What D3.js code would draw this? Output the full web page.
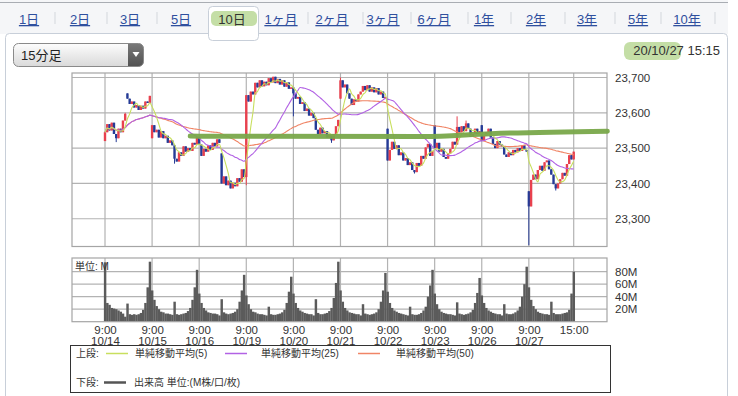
<!DOCTYPE html>
<html>
<head>
<meta charset="utf-8">
<script src="https://d3js.org/d3.v7.min.js"></script>
<style>
  body { margin: 0; background: #fff; }
  svg { display: block; font-family: "Liberation Sans", "Noto Sans CJK JP", sans-serif; }
</style>
</head>
<body>
<svg id="chart" width="738" height="396"></svg>
<script>
// ----- data -----
const tabLabels = ["1日", "2日", "3日", "5日", "10日", "1ヶ月", "2ヶ月", "3ヶ月", "6ヶ月", "1年", "2年", "3年", "5年", "10年"];
const selectedTab = "10日";
const dayLabels = ["10/14", "10/15", "10/16", "10/19", "10/20", "10/21", "10/22", "10/23", "10/26", "10/27"];
const stampText = "20/10/27 15:15";
const barText = "15分足";

// 15-minute closes, 21 bars per session (9:00 ... 15:00)
const c1014 = [23545, 23568, 23550, 23572, 23540, 23528, 23555, 23545, 23578, 23597, 23640, 23625, 23632, 23615, 23622, 23608, 23620, 23612, 23632, 23628, 23648];
const c1015 = [23565, 23545, 23552, 23530, 23548, 23528, 23535, 23515, 23522, 23508, 23470, 23462, 23488, 23478, 23505, 23490, 23500, 23492, 23515, 23510, 23530];
const c1016 = [23510, 23478, 23498, 23490, 23508, 23495, 23515, 23505, 23525, 23515, 23400, 23420, 23395, 23408, 23386, 23402, 23392, 23415, 23405, 23440, 23418];
const c1019 = [23650, 23632, 23660, 23652, 23685, 23672, 23692, 23675, 23688, 23678, 23698, 23686, 23702, 23684, 23696, 23680, 23692, 23674, 23686, 23668, 23672];
const c1020 = [23655, 23640, 23645, 23625, 23630, 23605, 23612, 23592, 23600, 23585, 23552, 23540, 23558, 23542, 23548, 23530, 23538, 23522, 23540, 23562, 23580];
const c1021 = [23692, 23672, 23680, 23655, 23640, 23622, 23638, 23632, 23652, 23660, 23676, 23664, 23678, 23660, 23672, 23658, 23670, 23652, 23660, 23642, 23645];
const c1022 = [23465, 23495, 23518, 23498, 23508, 23480, 23488, 23465, 23472, 23452, 23460, 23438, 23432, 23458, 23450, 23478, 23470, 23502, 23512, 23478, 23492];
const c1023 = [23500, 23515, 23490, 23498, 23475, 23470, 23485, 23498, 23518, 23510, 23560, 23545, 23562, 23548, 23570, 23555, 23532, 23540, 23555, 23540, 23548];
const c1026 = [23520, 23535, 23545, 23555, 23530, 23512, 23500, 23520, 23510, 23505, 23482, 23475, 23488, 23480, 23495, 23488, 23500, 23492, 23508, 23495, 23490];
const c1027 = [23335, 23410, 23425, 23412, 23438, 23450, 23436, 23460, 23465, 23440, 23425, 23398, 23386, 23400, 23412, 23430, 23422, 23455, 23480, 23468, 23490];

// opens that differ from the previous close: [day, bar, price]
const gapOpens = [[0, 0, 23520], [0, 10, 23655], [1, 0, 23528], [2, 10, 23485], [5, 0, 23640], [6, 0, 23555], [7, 0, 23565], [8, 0, 23565], [9, 0, 23378]];
const wickLows = [[0, 5, 23517], [1, 10, 23456], [3, 0, 23395], [4, 0, 23590], [4, 17, 23515], [6, 12, 23428], [9, 0, 23225], [9, 12, 23380]];
const wickHighs = [[0, 9, 23600], [5, 0, 23700], [7, 10, 23590], [7, 14, 23578]];

// volume, M shares per 15 minutes
const v1014 = [95, 30, 27, 22, 21, 20, 18, 16, 13, 8, 29, 12, 11, 12, 11, 12, 14, 19, 30, 55, 96];
const v1015 = [50, 35, 25, 20, 16, 15, 13, 13, 12, 11, 32, 12, 11, 12, 13, 14, 17, 22, 35, 55, 83];
const v1016 = [45, 30, 22, 18, 15, 14, 13, 13, 12, 10, 36, 15, 13, 12, 13, 14, 16, 20, 32, 50, 75];
const v1019 = [42, 28, 20, 16, 15, 13, 12, 12, 11, 10, 24, 12, 11, 11, 12, 13, 15, 19, 30, 48, 72];
const v1020 = [45, 30, 22, 18, 16, 14, 13, 12, 12, 10, 36, 14, 12, 12, 13, 14, 17, 22, 38, 62, 96];
const v1021 = [50, 32, 22, 18, 15, 14, 13, 12, 12, 10, 28, 13, 12, 11, 12, 13, 15, 20, 32, 50, 78];
const v1022 = [48, 30, 22, 18, 16, 14, 13, 12, 11, 10, 24, 12, 11, 11, 12, 14, 18, 24, 40, 58, 83];
const v1023 = [45, 28, 20, 16, 14, 13, 12, 12, 11, 10, 31, 13, 12, 11, 12, 13, 15, 19, 30, 46, 70];
const v1026 = [42, 30, 22, 18, 16, 14, 13, 12, 12, 10, 28, 13, 12, 12, 13, 15, 18, 24, 40, 60, 88];
const v1027 = [55, 35, 25, 20, 16, 14, 13, 12, 12, 11, 32, 14, 12, 12, 12, 13, 14, 15, 19, 45, 80];

// hand-drawn marker line over the price chart: [bar index, price]
const markLine = [[38, 23534], [142, 23533], [172, 23541], [224, 23548]];

const priceTicks = [23300, 23400, 23500, 23600, 23700];
const volTicks = [20, 40, 60, 80];
const maSpecs = [
  { n: 5, label: "単純移動平均(5)", color: "#c8df5e" },
  { n: 25, label: "単純移動平均(25)", color: "#b262e4" },
  { n: 50, label: "単純移動平均(50)", color: "#f08566" }
];

// ----- build bars -----
const perDay = 21;
const closes = [].concat(c1014, c1015, c1016, c1019, c1020, c1021, c1022, c1023, c1026, c1027);
const volumes = [].concat(v1014, v1015, v1016, v1019, v1020, v1021, v1022, v1023, v1026, v1027);
const lookup = arr => new Map(arr.map(d => [d[0] * perDay + d[1], d[2]]));
const openMap = lookup(gapOpens), lowMap = lookup(wickLows), highMap = lookup(wickHighs);

const bars = closes.map((c, i) => {
  const o = openMap.has(i) ? openMap.get(i) : closes[i - 1];
  let h = Math.max(o, c), l = Math.min(o, c);
  if (highMap.has(i)) h = Math.max(h, highMap.get(i));
  if (lowMap.has(i)) l = Math.min(l, lowMap.get(i));
  return { i, o, c, h, l, v: volumes[i] };
});

function sma(n) {
  return closes.map((c, i) => d3.mean(closes.slice(Math.max(0, i - n + 1), i + 1)));
}

// ----- scales -----
const left = 72, right = 607;
const x = d3.scaleLinear().domain([0, closes.length - 1]).range([105, 573.7]);
const y = d3.scaleLinear().domain([23221.5, 23712.7]).range([246.5, 73]);
const yv = d3.scaleLinear().domain([0, 80]).range([321.7, 271.7]);
const dayStarts = dayLabels.map((d, k) => k * perDay);
const xTicks = dayStarts.concat([closes.length - 1]);

const svg = d3.select("#chart");
const gridColor = "#b3b3b3";
const red = "#e8414e", blue = "#253b96";

// ----- tab strip and panel -----
svg.append("rect").attr("x", 0).attr("y", 0).attr("width", 728).attr("height", 34).attr("fill", "#f5f6f8");
svg.append("line").attr("x1", 0).attr("x2", 728).attr("y1", 2.5).attr("y2", 2.5).attr("stroke", "#a9adb3");
svg.append("rect").attr("x", 5.5).attr("y", 33.5).attr("width", 722).attr("height", 400).attr("rx", 4)
  .attr("fill", "#fff").attr("stroke", "#c8cfd9");
svg.append("rect").attr("x", 208.5).attr("y", 6.5).attr("width", 50).attr("height", 34).attr("rx", 4)
  .attr("fill", "#fff").attr("stroke", "#c8cfd9");
svg.append("rect").attr("x", 209).attr("y", 32).attr("width", 49).attr("height", 4).attr("fill", "#fff");

// marker highlights
svg.append("rect").attr("x", 211).attr("y", 11).attr("width", 46).attr("height", 15).attr("rx", 5)
  .attr("fill", "#9cc86a").attr("opacity", 0.6);
svg.append("rect").attr("x", 624).attr("y", 42).attr("width", 57).attr("height", 18).attr("rx", 6)
  .attr("fill", "#9cc86a").attr("opacity", 0.6);

const tabX = [29, 80, 130, 181, 232, 281, 332, 383, 434, 484, 536, 587, 638, 687];
const sepX = [55, 107, 157, 308, 363, 411, 468, 511, 565, 615, 661, 715];
svg.append("g").selectAll("line").data(sepX).join("line")
  .attr("x1", d => d).attr("x2", d => d).attr("y1", 12).attr("y2", 24)
  .attr("stroke", "#d3d7dc");
svg.append("g").selectAll("text").data(tabLabels).join("text")
  .attr("x", (d, i) => tabX[i]).attr("y", 24)
  .attr("text-anchor", "middle").style("font-size", "13px")
  .attr("fill", d => d === selectedTab ? "#333" : "#2f4f9e")
  .attr("text-decoration", d => d === selectedTab ? "none" : "underline")
  .text(d => d);

// dropdown
const defs = svg.append("defs");
const g1 = defs.append("linearGradient").attr("id", "ddg").attr("x1", 0).attr("y1", 0).attr("x2", 0).attr("y2", 1);
g1.append("stop").attr("offset", "0%").attr("stop-color", "#fdfdfd");
g1.append("stop").attr("offset", "100%").attr("stop-color", "#d9d9d9");
const g2 = defs.append("linearGradient").attr("id", "ddb").attr("x1", 0).attr("y1", 0).attr("x2", 0).attr("y2", 1);
g2.append("stop").attr("offset", "0%").attr("stop-color", "#7a7a7a");
g2.append("stop").attr("offset", "100%").attr("stop-color", "#4f4f4f");
defs.append("clipPath").attr("id", "ddclip").append("rect")
  .attr("x", 13.5).attr("y", 43.5).attr("width", 130).attr("height", 23).attr("rx", 5);
defs.append("clipPath").attr("id", "plotclip").append("rect")
  .attr("x", left).attr("y", 73).attr("width", right - left).attr("height", 173.5);

svg.append("rect").attr("x", 13.5).attr("y", 43.5).attr("width", 130).attr("height", 23).attr("rx", 5)
  .attr("fill", "url(#ddg)");
svg.append("rect").attr("x", 128).attr("y", 43).attr("width", 17).attr("height", 25)
  .attr("fill", "url(#ddb)").attr("clip-path", "url(#ddclip)");
svg.append("rect").attr("x", 13.5).attr("y", 43.5).attr("width", 130).attr("height", 23).attr("rx", 5)
  .attr("fill", "none").attr("stroke", "#8a8a8a");
svg.append("path").attr("d", "M132.5,52 L139.5,52 L136,57 Z").attr("fill", "#fff");
svg.append("text").attr("x", 21).attr("y", 59.5).style("font-size", "13px").attr("fill", "#222").text(barText);

svg.append("text").attr("x", 720).attr("y", 54.5).attr("text-anchor", "end")
  .style("font-size", "13px").attr("fill", "#333").text(stampText);

// ----- price chart -----
const gP = svg.append("g");
gP.selectAll(".hg").data(priceTicks).join("line")
  .attr("x1", left).attr("x2", right).attr("y1", d => y(d)).attr("y2", d => y(d))
  .attr("stroke", gridColor).attr("stroke-width", 1.2);
gP.selectAll(".vg").data(xTicks).join("line")
  .attr("x1", d => x(d)).attr("x2", d => x(d)).attr("y1", 73).attr("y2", 246.5)
  .attr("stroke", gridColor).attr("stroke-width", 1.2);
gP.append("rect").attr("x", left).attr("y", 73).attr("width", right - left).attr("height", 173.5)
  .attr("fill", "none").attr("stroke", "#a5a5a5").attr("stroke-width", 1.2);

const plot = gP.append("g").attr("clip-path", "url(#plotclip)");
const candle = plot.selectAll(".candle").data(bars).join("g");
candle.append("line")
  .attr("x1", d => x(d.i)).attr("x2", d => x(d.i))
  .attr("y1", d => y(d.h)).attr("y2", d => y(d.l))
  .attr("stroke", d => d.c >= d.o ? red : blue).attr("stroke-width", 1);
candle.append("rect")
  .attr("x", d => x(d.i) - 1.2).attr("width", 2.4)
  .attr("y", d => y(Math.max(d.o, d.c)))
  .attr("height", d => Math.max(1.5, Math.abs(y(d.o) - y(d.c))))
  .attr("fill", d => d.c >= d.o ? red : blue);

maSpecs.slice().reverse().forEach(m => {
  const vals = sma(m.n);
  plot.append("path").datum(vals)
    .attr("fill", "none").attr("stroke", m.color).attr("stroke-width", 1.1)
    .attr("d", d3.line().x((d, i) => x(i)).y(d => y(d)).curve(d3.curveMonotoneX));
});

svg.append("path").datum(markLine)
  .attr("fill", "none").attr("stroke", "#79a84a").attr("stroke-width", 5).attr("stroke-opacity", 0.95)
  .attr("stroke-linecap", "round")
  .attr("d", d3.line().x(d => x(d[0])).y(d => y(d[1])).curve(d3.curveMonotoneX));

const yAxis = gP.append("g").attr("transform", `translate(${right},0)`)
  .call(d3.axisRight(y).tickValues(priceTicks).tickFormat(d3.format(",")).tickSize(0).tickPadding(8));
yAxis.select(".domain").remove();
yAxis.selectAll("text").style("font-size", "11.5px").attr("fill", "#333");

// ----- volume chart -----
const gV = svg.append("g");
gV.selectAll(".hg").data(volTicks).join("line")
  .attr("x1", left).attr("x2", right).attr("y1", d => yv(d)).attr("y2", d => yv(d))
  .attr("stroke", gridColor).attr("stroke-width", 1.2);
gV.selectAll(".vg").data(xTicks).join("line")
  .attr("x1", d => x(d)).attr("x2", d => x(d)).attr("y1", 258).attr("y2", 321.7)
  .attr("stroke", gridColor).attr("stroke-width", 1.2);
const step = x(1) - x(0);
gV.selectAll(".vb").data(bars).join("rect")
  .attr("x", d => x(d.i) - step / 2).attr("width", step + 0.2)
  .attr("y", d => yv(d.v)).attr("height", d => yv(0) - yv(d.v))
  .attr("fill", "#5b5b5b");
gV.append("rect").attr("x", left).attr("y", 258).attr("width", right - left).attr("height", 63.7)
  .attr("fill", "none").attr("stroke", "#a5a5a5").attr("stroke-width", 1.2);
gV.append("text").attr("x", 75).attr("y", 270).style("font-size", "10px").attr("fill", "#333").text("単位: M");

const vAxis = gV.append("g").attr("transform", `translate(${right},0)`)
  .call(d3.axisRight(yv).tickValues(volTicks).tickFormat(d => d + "M").tickSize(0).tickPadding(8));
vAxis.select(".domain").remove();
vAxis.selectAll("text").style("font-size", "11.5px").attr("fill", "#333");

// ----- x axis -----
const xAxis = svg.append("g").attr("transform", "translate(0,322)")
  .call(d3.axisBottom(x).tickValues(xTicks).tickSize(0).tickPadding(0)
    .tickFormat(d => d === closes.length - 1 ? "15:00" : "9:00"));
xAxis.select(".domain").remove();
xAxis.selectAll("text").style("font-size", "11.5px").attr("fill", "#333").attr("y", 12).attr("dy", 0);
xAxis.selectAll(".tick").filter(d => d < closes.length - 1).append("text")
  .attr("y", 23).attr("fill", "#333").attr("text-anchor", "middle").style("font-size", "11.5px")
  .text(d => dayLabels[d / perDay]);

// ----- legend -----
const gL = svg.append("g");
gL.append("rect").attr("x", 70.5).attr("y", 345.5).attr("width", 540).attr("height", 47)
  .attr("fill", "#fff").attr("stroke", "#333");
gL.append("text").attr("x", 76).attr("y", 357).style("font-size", "10px").attr("fill", "#333").text("上段:");
const legX = [[106, 135], [225, 261], [358, 396]];
maSpecs.forEach((m, k) => {
  gL.append("line").attr("x1", legX[k][0]).attr("x2", legX[k][0] + 22).attr("y1", 353.5).attr("y2", 353.5)
    .attr("stroke", m.color).attr("stroke-width", 1.5);
  gL.append("text").attr("x", legX[k][1]).attr("y", 357).style("font-size", "10px").attr("fill", "#333").text(m.label);
});
gL.append("text").attr("x", 76).attr("y", 386).style("font-size", "10px").attr("fill", "#333").text("下段:");
gL.append("line").attr("x1", 104).attr("x2", 126).attr("y1", 382.5).attr("y2", 382.5)
  .attr("stroke", "#555").attr("stroke-width", 2.5);
gL.append("text").attr("x", 134).attr("y", 386).style("font-size", "10px").attr("fill", "#333").text("出来高 単位:(M株/口/枚)");
</script>
</body>
</html>
